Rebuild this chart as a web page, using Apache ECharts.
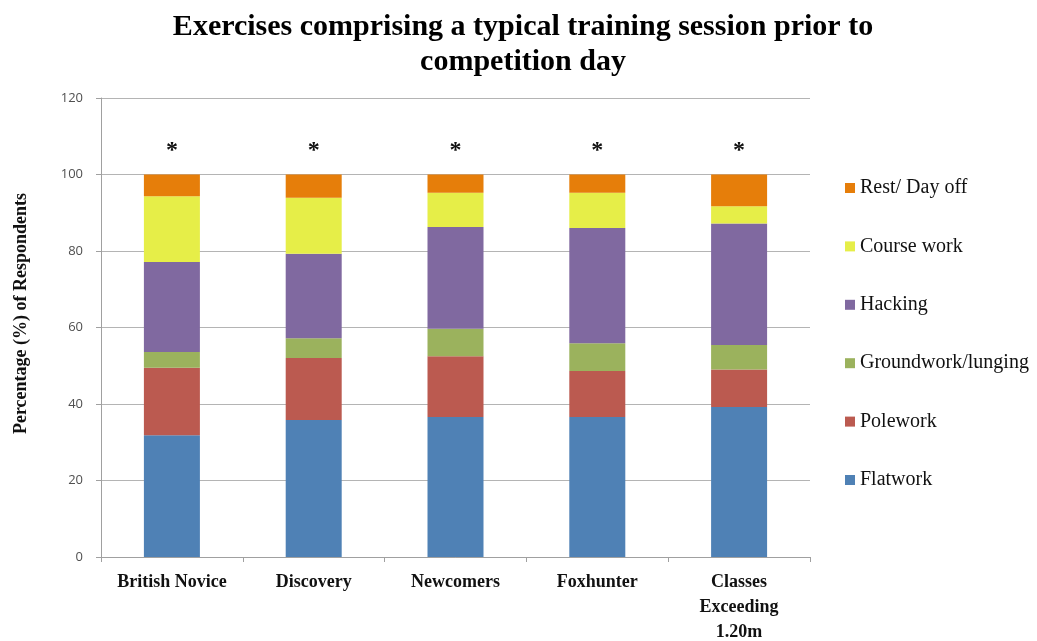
<!DOCTYPE html>
<html>
<head>
<meta charset="utf-8">
<script src="https://cdn.jsdelivr.net/npm/echarts@6/dist/echarts.min.js"></script>
<style>
  html, body { margin: 0; padding: 0; background: #fff; }
  #chart { width: 1037px; height: 641px; }
</style>
</head>
<body>
<div id="chart"></div>
<script>
// Competition classes along the x axis
const categories = ['British Novice', 'Discovery', 'Newcomers', 'Foxhunter', 'Classes\nExceeding\n1.20m'];

// Percentage of respondents per exercise type (stacked bottom to top)
const flatwork   = [31.8, 35.8, 36.6, 36.6, 39.2];
const polework   = [17.7, 16.2, 15.9, 12.0,  9.8];
const groundwork = [ 4.1,  5.2,  7.2,  7.3,  6.4];
const hacking    = [23.5, 22.1, 26.6, 30.1, 31.8];
const courseWork = [17.2, 14.6,  8.9,  9.2,  4.5];
const restDayOff = [ 5.7,  6.1,  4.8,  4.8,  8.3];

// Significance marker shown above each bar
const significance = ['*', '*', '*', '*', '*'];

const yTicks = { min: 0, max: 120, interval: 20 };

const seriesDefs = [
  { name: 'Flatwork', data: flatwork, color: '#4f81b5' },
  { name: 'Polework', data: polework, color: '#bb5a50' },
  { name: 'Groundwork/lunging', data: groundwork, color: '#9bb25d' },
  { name: 'Hacking', data: hacking, color: '#8069a0' },
  { name: 'Course work', data: courseWork, color: '#e6ee48' },
  { name: 'Rest/ Day off', data: restDayOff, color: '#e67e0a' }
];

const serif = '"Liberation Serif", "Times New Roman", serif';

const series = seriesDefs.map((s, i) => {
  const item = {
    name: s.name,
    type: 'bar',
    stack: 'total',
    barWidth: 56,
    data: s.data,
    itemStyle: { color: s.color },
    emphasis: { disabled: true }
  };
  if (i === seriesDefs.length - 1) {
    item.label = {
      show: true,
      position: 'top',
      distance: 12,
      formatter: p => significance[p.dataIndex],
      fontFamily: serif,
      fontSize: 24,
      fontWeight: 'bold',
      color: '#111'
    };
  }
  return item;
});

const chart = echarts.init(document.getElementById('chart'), null, { renderer: 'canvas' });
chart.setOption({
  animation: false,
  title: {
    text: 'Exercises comprising a typical training session prior to\ncompetition day',
    left: 518,
    textAlign: 'center',
    top: 5,
    textStyle: {
      fontFamily: serif,
      fontSize: 30,
      fontWeight: 'bold',
      color: '#000',
      lineHeight: 35
    }
  },
  legend: {
    orient: 'vertical',
    left: 840,
    top: 173,
    itemGap: 38.4,
    itemWidth: 10,
    itemHeight: 10,
    icon: 'rect',
    data: seriesDefs.map(s => s.name).reverse(),
    formatter: name => '{t|' + name + '}',
    textStyle: {
      fontFamily: serif,
      fontSize: 20,
      color: '#111',
      rich: { t: { fontFamily: serif, fontSize: 20, color: '#111' } }
    }
  },
  grid: { left: 101, top: 98, width: 709, height: 459, containLabel: false, outerBoundsMode: 'none' },
  xAxis: {
    type: 'category',
    data: categories,
    axisLine: { lineStyle: { color: '#a0a0a0', width: 1 } },
    axisTick: { show: true, length: 5, lineStyle: { color: '#a0a0a0' } },
    axisLabel: {
      interval: 0,
      hideOverlap: false,
      fontFamily: serif,
      fontWeight: 'bold',
      fontSize: 18,
      color: '#111',
      margin: 13,
      lineHeight: 25
    }
  },
  yAxis: {
    type: 'value',
    min: yTicks.min,
    max: yTicks.max,
    interval: yTicks.interval,
    name: 'Percentage (%) of Respondents',
    nameLocation: 'middle',
    nameGap: 71,
    nameTextStyle: { fontFamily: serif, fontWeight: 'bold', fontSize: 18, color: '#111', padding: [0, 0, 0, 28] },
    axisLine: { show: true, lineStyle: { color: '#a0a0a0' } },
    axisTick: { show: true, length: 5, inside: false, lineStyle: { color: '#a0a0a0' } },
    axisLabel: { fontFamily: '"Open Sans", "Liberation Sans", sans-serif', fontSize: 13, color: '#505050', margin: 18 },
    splitLine: { lineStyle: { color: '#b4b4b4', width: 1.2 } }
  },
  series: series
});
</script>
</body>
</html>
